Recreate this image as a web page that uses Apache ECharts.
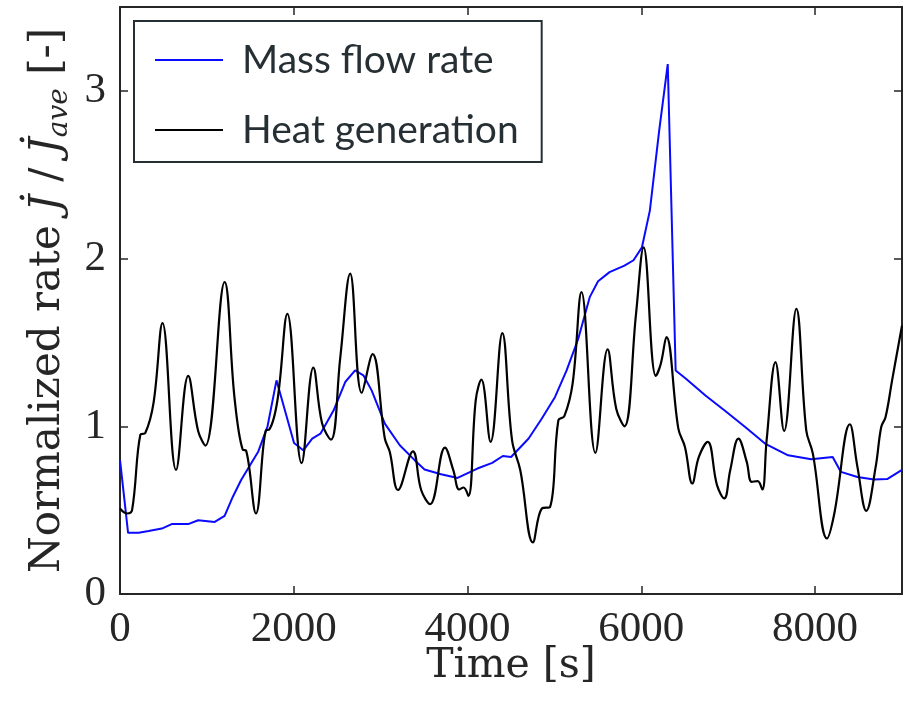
<!DOCTYPE html>
<html>
<head>
<meta charset="utf-8">
<script src="https://cdn.jsdelivr.net/npm/echarts@6.0.0/dist/echarts.min.js"></script>
<style>
	html, body {margin: 0; padding: 0; background: #fff;}
	#chart {width: 905px; height: 715px;}
</style>
</head>
<body>
<div id="chart"></div>
<script>
// mass flow rate (blue)
const massTime = [0, 93, 215, 329, 481, 595, 785, 900, 1090, 1204, 1299, 1394, 1592, 1698, 1801, 2003,
	2109, 2212, 2307, 2459, 2592, 2706, 2801, 2896, 3048, 3220, 3391, 3505, 3695, 3885, 4113, 4284,
	4406, 4501, 4703, 4855, 5007, 5140, 5274, 5406, 5502, 5634, 5806, 5910, 6007, 6098, 6205, 6304,
	6395, 6510, 6738, 6966, 7195, 7423, 7689, 7955, 8202, 8297, 8487, 8677, 8829, 9000];
const massRate = [0.80, 0.365, 0.365, 0.375, 0.39, 0.417, 0.417, 0.44, 0.43, 0.466, 0.58, 0.68, 0.85, 1.0, 1.274, 0.90,
	0.857, 0.927, 0.956, 1.095, 1.264, 1.333, 1.304, 1.214, 1.016, 0.887, 0.798, 0.742, 0.714, 0.692, 0.748, 0.782,
	0.823, 0.817, 0.927, 1.046, 1.175, 1.333, 1.522, 1.77, 1.865, 1.919, 1.958, 1.99, 2.067, 2.286, 2.762, 3.16,
	1.333, 1.285, 1.184, 1.091, 0.996, 0.897, 0.827, 0.804, 0.817, 0.728, 0.698, 0.683, 0.685, 0.74];

// heat generation (black)
const heatTime = [0, 82, 139, 234, 291, 386, 489, 645, 785, 900, 983, 1204, 1318, 1413, 1451, 1565,
	1679, 1717, 1812, 1926, 2090, 2225, 2326, 2428, 2535, 2649, 2782, 2907, 3048, 3105, 3200, 3371,
	3466, 3569, 3740, 3836, 3904, 3953, 4010, 4094, 4159, 4265, 4400, 4512, 4607, 4752, 4855, 4950,
	5045, 5114, 5209, 5311, 5471, 5612, 5711, 5806, 5939, 6026, 6167, 6224, 6289, 6426, 6502, 6586,
	6662, 6764, 6871, 6955, 7023, 7118, 7213, 7270, 7339, 7392, 7442, 7544, 7643, 7784, 7898, 7974,
	8137, 8221, 8400, 8487, 8589, 8697, 8761, 8811, 8886, 9000];
const heatRate = [0.51, 0.48, 0.50, 0.95, 0.96, 1.14, 1.615, 0.74, 1.30, 0.97, 0.885, 1.86, 1.17, 0.86, 0.855, 0.48,
	0.976, 0.98, 1.155, 1.67, 0.78, 1.35, 1.016, 0.92, 1.41, 1.91, 1.20, 1.43, 0.927, 0.847, 0.62, 0.851,
	0.62, 0.536, 0.873, 0.738, 0.623, 0.635, 0.585, 1.155, 1.278, 0.907, 1.555, 0.917, 0.738, 0.308, 0.51, 0.52,
	1.036, 1.06, 1.254, 1.80, 0.841, 1.458, 1.105, 1.0, 1.67, 2.067, 1.30, 1.373, 1.532, 0.986, 0.877, 0.659,
	0.817, 0.907, 0.649, 0.57, 0.738, 0.927, 0.788, 0.669, 0.673, 0.623, 0.917, 1.383, 0.972, 1.70, 0.976, 0.837,
	0.331, 0.48, 1.012, 0.758, 0.496, 0.758, 0.996, 1.055, 1.274, 1.60];

const xTicks = [0, 2000, 4000, 6000, 8000];
const yTicks = [0, 1, 2, 3];

const axisColor = "#262626";
const serif = "Liberation Serif";
const titleFont = "DejaVu Serif";

const chart = echarts.init(document.getElementById("chart"));

// box axes: lines + inward ticks, no grid lines
const frameAxis = {
	axisLine: {show: true, onZero: false, lineStyle: {color: axisColor, width: 2}},
	axisTick: {show: true, inside: true, length: 8, lineStyle: {color: axisColor, width: 1.5}},
	splitLine: {show: false},
};

chart.setOption({
	animation: false,
	grid: {left: 120, right: 0, top: 7, bottom: 121},
	legend: {
		left: 134,
		top: 21,
		orient: "vertical",
		icon: "rect",
		itemWidth: 68,
		itemHeight: 2,
		itemGap: 30,
		padding: [19, 23, 12, 21],
		borderColor: "#262f33",
		borderWidth: 2,
		backgroundColor: "#fff",
		textStyle: {fontFamily: "Lato", fontSize: 39, color: "#262f33", lineHeight: 40, padding: [0, 0, 0, 14]},
		data: ["Mass flow rate", "Heat generation"],
	},
	xAxis: [
		{
			type: "value",
			min: 0,
			max: 9000,
			interval: 2000,
			position: "bottom",
			...frameAxis,
			axisLabel: {
				margin: 14,
				fontFamily: serif,
				fontSize: 43,
				color: axisColor,
				formatter: (v) => (xTicks.includes(v) ? String(v) : ""),
			},
			name: "Time [s]",
			nameLocation: "middle",
			nameGap: 52,
			nameMoveOverlap: false,
			nameTextStyle: {fontFamily: titleFont, fontSize: 41, color: axisColor},
		},
		{type: "value", min: 0, max: 9000, interval: 2000, position: "top", ...frameAxis, axisLabel: {show: false}},
	],
	yAxis: [
		{
			type: "value",
			min: 0,
			max: 3.5,
			interval: 1,
			position: "left",
			...frameAxis,
			axisLabel: {
				margin: 14,
				fontFamily: serif,
				fontSize: 43,
				color: axisColor,
				formatter: (v) => (yTicks.includes(v) ? String(v) : ""),
			},
			name: "{r|Normalized rate }{j|J\u0307}{r| / }{j|J\u0307}{s|ave}{r| [-]}",
			nameLocation: "middle",
			nameGap: 46,
			nameMoveOverlap: false,
			nameTextStyle: {
				fontFamily: titleFont,
				fontSize: 42,
				color: axisColor,
				rich: {
					r: {fontFamily: titleFont, fontSize: 42, lineHeight: 52, color: axisColor},
					j: {fontFamily: titleFont, fontSize: 42, lineHeight: 52, fontStyle: "italic", color: axisColor},
					s: {fontFamily: titleFont, fontSize: 28, lineHeight: 24, fontStyle: "italic", verticalAlign: "bottom", color: axisColor},
				},
			},
		},
		{type: "value", min: 0, max: 3.5, interval: 1, position: "right", ...frameAxis, axisLabel: {show: false}},
	],
	series: [
		{
			name: "Mass flow rate",
			type: "line",
			symbol: "none",
			lineStyle: {color: "#0a0aff", width: 2},
			itemStyle: {color: "#0a0aff"},
			data: massTime.map((t, i) => [t, massRate[i]]),
		},
		{
			name: "Heat generation",
			type: "line",
			symbol: "none",
			smooth: 0.4,
			lineStyle: {color: "#000", width: 2.2},
			itemStyle: {color: "#000"},
			data: heatTime.map((t, i) => [t, heatRate[i]]),
		},
	],
});
</script>
</body>
</html>
